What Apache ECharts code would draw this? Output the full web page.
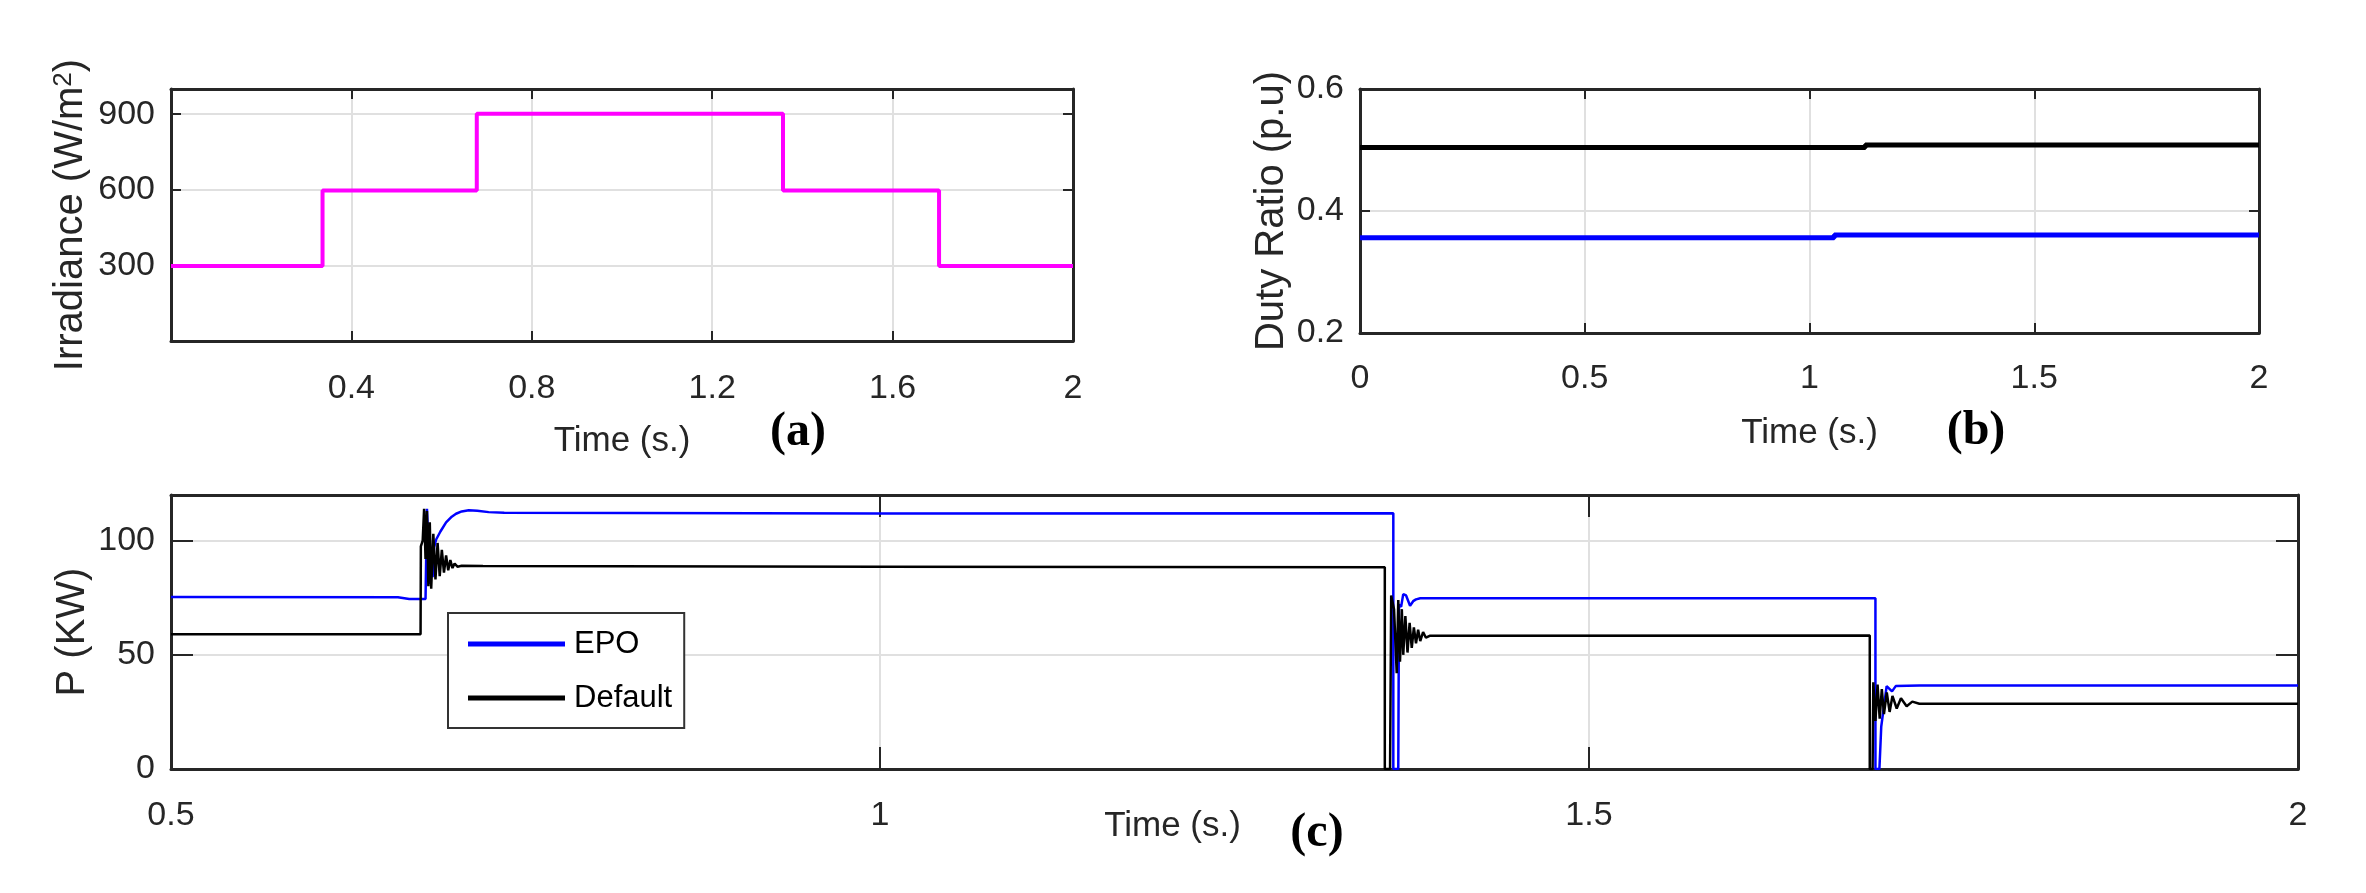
<!DOCTYPE html>
<html>
<head>
<meta charset="utf-8">
<script src="https://cdn.jsdelivr.net/npm/echarts/dist/echarts.min.js"></script>
<style>
html, body { margin: 0; padding: 0; background: #fff; }
#main { width: 2366px; height: 893px; }
</style>
</head>
<body>
<div id="main"></div>
<script>
// (a) irradiance steps
var irrTime = [0, 0.336, 0.336, 0.678, 0.678, 1.357, 1.357, 1.703, 1.703, 2];
var irrValue = [298, 298, 597, 597, 902, 902, 597, 597, 298, 298];

// (b) duty ratio
var dutyEpoTime = [0, 1.055, 1.055, 2];
var dutyEpoValue = [0.356, 0.356, 0.3605, 0.3605];
var dutyDefTime = [0, 1.124, 1.124, 2];
var dutyDefValue = [0.504, 0.504, 0.508, 0.508];

// (c) power, [time, kW]
var powerEpo = [
    [0.5, 75.3], [0.66, 75.2], [0.668, 74.5], [0.6795, 74.5], [0.6805, 114], [0.6815, 100],
    [0.6825, 81], [0.6835, 92], [0.6845, 84], [0.6855, 97], [0.687, 100.5], [0.69, 104],
    [0.694, 108], [0.698, 110.5], [0.701, 111.8], [0.705, 112.8], [0.71, 113.3], [0.716, 113.1],
    [0.724, 112.5], [0.735, 112.2], [1.0, 111.9], [1.362, 112.0], [1.362, 0], [1.3655, 0],
    [1.366, 72], [1.3675, 71], [1.369, 76.6], [1.371, 76], [1.3738, 71.5], [1.376, 73.5],
    [1.378, 74.3], [1.381, 74.8], [1.702, 74.8], [1.702, 0], [1.7048, 0], [1.7061, 18.6],
    [1.7099, 36.3], [1.7137, 34], [1.7163, 36.3], [1.733, 36.6], [2, 36.6]
];
var powerDefault = [
    [0.5, 59], [0.676, 59], [0.6762, 97.5], [0.6775, 100], [0.6785, 114], [0.6795, 92],
    [0.6805, 113], [0.6815, 80], [0.6825, 108], [0.6835, 79], [0.685, 103], [0.6865, 83],
    [0.688, 99], [0.6895, 84.5], [0.691, 96], [0.6925, 86], [0.694, 93.5], [0.6955, 87],
    [0.697, 91.5], [0.6985, 88], [0.7, 90], [0.702, 88.6], [0.705, 89], [0.72, 88.9],
    [1.0, 88.6], [1.356, 88.4], [1.356, 0], [1.3597, 0], [1.3605, 76], [1.3625, 70],
    [1.3644, 42], [1.3655, 74], [1.3667, 47], [1.368, 70], [1.369, 50], [1.3705, 67],
    [1.372, 51], [1.3735, 64], [1.375, 53], [1.3765, 62], [1.378, 55], [1.3795, 61],
    [1.381, 56], [1.383, 60], [1.385, 57.5], [1.388, 58.4], [1.698, 58.5], [1.698, 0],
    [1.7, 0], [1.7005, 38], [1.702, 21], [1.7035, 37], [1.705, 22], [1.7065, 35],
    [1.708, 24], [1.71, 33.5], [1.712, 25], [1.714, 32], [1.717, 26.5], [1.72, 31],
    [1.724, 27.5], [1.728, 29.5], [1.733, 28.6], [2, 28.6]
];
var legendNames = ['EPO', 'Default'];

var axisColor = '#262626';
var gridColor = '#e0e0e0';
var sans = '"Liberation Sans", Arial, sans-serif';

function pairs(t, v) {
    return t.map(function (x, i) { return [x, v[i]]; });
}

function xAxes(grid, min, max, interval, tickLen, margin, name, nameGap, namePad) {
    var line = { show: true, onZero: false, lineStyle: { color: axisColor, width: 3 } };
    var tick = { show: true, inside: true, length: tickLen, lineStyle: { color: axisColor, width: 2 } };
    return [{
        type: 'value', gridIndex: grid, position: 'bottom', min: min, max: max, interval: interval,
        axisLine: line, axisTick: tick,
        axisLabel: {
            margin: margin, fontSize: 34, color: axisColor, fontFamily: sans,
            showMinLabel: grid !== 0,
            formatter: function (v) { return String(+v.toFixed(2)); }
        },
        splitLine: { show: true, lineStyle: { color: gridColor, width: 2 } },
        name: name, nameLocation: 'middle', nameGap: nameGap, nameMoveOverlap: false,
        nameTextStyle: { fontSize: 35, color: axisColor, fontFamily: sans, padding: namePad || 0 }
    }, {
        type: 'value', gridIndex: grid, position: 'top', min: min, max: max, interval: interval,
        axisLine: line, axisTick: tick, axisLabel: { show: false }, splitLine: { show: false }
    }];
}

function yAxes(grid, min, max, interval, tickLen, name, nameGap, rich) {
    var line = { show: true, onZero: false, lineStyle: { color: axisColor, width: 3 } };
    var tick = { show: true, inside: true, length: tickLen, lineStyle: { color: axisColor, width: 2 } };
    return [{
        type: 'value', gridIndex: grid, position: 'left', min: min, max: max, interval: interval,
        axisLine: line, axisTick: tick,
        axisLabel: {
            margin: 16, fontSize: 34, color: axisColor, fontFamily: sans,
            showMinLabel: grid !== 0, showMaxLabel: grid === 1,
            formatter: function (v) { return String(+v.toFixed(2)); }
        },
        splitLine: { show: true, lineStyle: { color: gridColor, width: 2 } },
        name: name, nameLocation: 'middle', nameGap: nameGap, nameMoveOverlap: false,
        nameTextStyle: { fontSize: 40, color: axisColor, fontFamily: sans, rich: rich }
    }, {
        type: 'value', gridIndex: grid, position: 'right', min: min, max: max, interval: interval,
        axisLine: line, axisTick: tick, axisLabel: { show: false }, splitLine: { show: false }
    }];
}

function tag(text, x, y) {
    return {
        type: 'text', x: x, y: y,
        style: {
            text: text, fill: '#000', font: 'bold 48px "Liberation Serif", "Times New Roman", serif',
            align: 'center', verticalAlign: 'middle'
        }
    };
}

var irrRich = {
    n: { fontSize: 40, color: axisColor, fontFamily: sans },
    s: { fontSize: 26, color: axisColor, fontFamily: sans, verticalAlign: 'top' }
};

var myChart = echarts.init(document.getElementById('main'));
var option = {
    backgroundColor: '#fff',
    animation: false,
    grid: [
        { left: 171, top: 89, width: 902, height: 252 },
        { left: 1360, top: 89, width: 899, height: 244 },
        { left: 171, top: 495, width: 2127, height: 274 }
    ],
    xAxis: [].concat(
        xAxes(0, 0, 2, 0.4, 10, 31, 'Time (s.)', 83),
        xAxes(1, 0, 2, 0.5, 10, 29, 'Time (s.)', 83),
        xAxes(2, 0.5, 2, 0.5, 22, 30, 'Time (s.)', 40, [0, 124, 0, 0])
    ),
    yAxis: [].concat(
        yAxes(0, 0, 1000, 300, 10, '{n|Irradiance (W/m}{s|2}{n|)}', 80, irrRich),
        yAxes(1, 0.2, 0.6, 0.2, 10, 'Duty Ratio (p.u)', 68),
        yAxes(2, 0, 120, 50, 22, 'P (KW)', 78)
    ),
    legend: {
        data: legendNames,
        orient: 'vertical',
        left: 448,
        top: 613,
        icon: 'rect',
        itemWidth: 97,
        itemHeight: 5,
        itemGap: 18,
        padding: [13, 12, 12, 20],
        borderColor: '#333',
        borderWidth: 2,
        backgroundColor: '#fff',
        textStyle: { fontSize: 31, lineHeight: 36, color: '#000', fontFamily: sans, padding: [0, 0, 0, 4] }
    },
    graphic: [tag('(a)', 798, 433), tag('(b)', 1976, 432), tag('(c)', 1317, 834)],
    series: [{
        name: 'Irradiance', type: 'line', xAxisIndex: 0, yAxisIndex: 0,
        symbol: 'none', color: '#ff00ff', lineStyle: { width: 4 },
        data: pairs(irrTime, irrValue)
    }, {
        name: 'Default duty', type: 'line', xAxisIndex: 2, yAxisIndex: 2,
        symbol: 'none', color: '#000', lineStyle: { width: 5 },
        data: pairs(dutyDefTime, dutyDefValue)
    }, {
        name: 'EPO duty', type: 'line', xAxisIndex: 2, yAxisIndex: 2,
        symbol: 'none', color: '#0000ff', lineStyle: { width: 5 },
        data: pairs(dutyEpoTime, dutyEpoValue)
    }, {
        name: 'EPO', type: 'line', xAxisIndex: 4, yAxisIndex: 4,
        symbol: 'none', color: '#0000ff', lineStyle: { width: 2.5 },
        data: powerEpo
    }, {
        name: 'Default', type: 'line', xAxisIndex: 4, yAxisIndex: 4,
        symbol: 'none', color: '#000', lineStyle: { width: 2.5 },
        data: powerDefault
    }]
};
myChart.setOption(option);
window.addEventListener('resize', function () {
    myChart.resize();
});
</script>
</body>
</html>
